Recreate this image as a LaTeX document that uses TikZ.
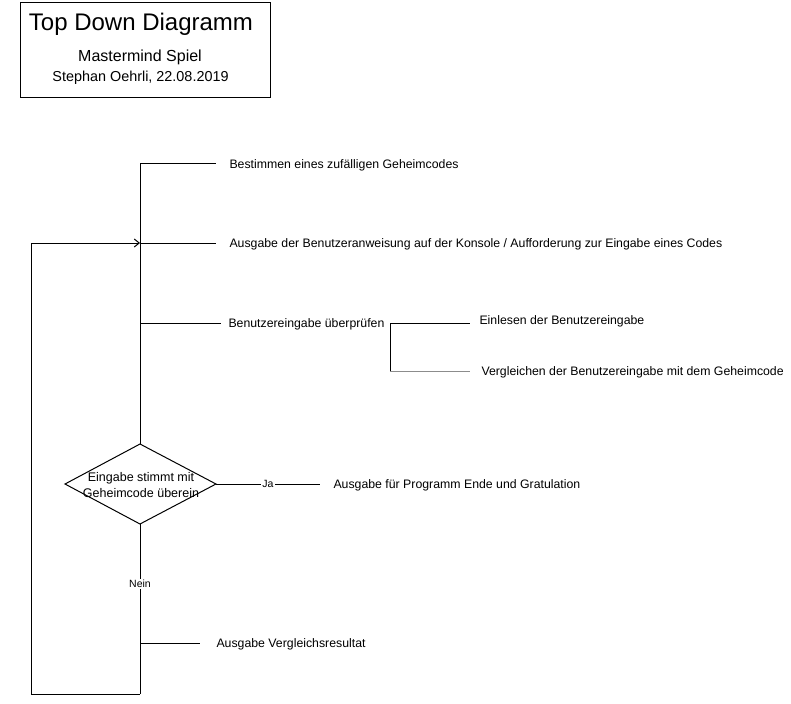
\documentclass[tikz,border=0pt]{standalone}
\usepackage{fontspec}
\setmainfont{Liberation Sans}
\usetikzlibrary{arrows.meta}
\begin{document}
\begin{tikzpicture}[x=1pt,y=-1pt,line width=1pt,
  lbl/.style={anchor=west,inner xsep=13pt,inner ysep=0pt,text height=8.5pt,text depth=0pt,font=\fontsize{12.3}{14}\selectfont},
  tag/.style={fill=white,inner sep=1pt,font=\fontsize{10.5}{12}\selectfont},
  grayline/.style={draw=black!45}]
\useasboundingbox (0,0) rectangle (791,703);
% title box
\node[draw,minimum width=250pt,minimum height=95pt,inner sep=0pt] (title) at (145,50.5) {};
\node[font=\fontsize{24}{26}\selectfont,inner sep=0pt,text height=17pt,text depth=0pt] (t0) at (141,22) {Top Down Diagramm};
\node[font=\fontsize{16}{18}\selectfont,inner sep=0pt,text height=11.5pt,text depth=0pt] (t00) at (140,56) {Mastermind Spiel};
\node[font=\fontsize{14.4}{16}\selectfont,inner sep=0pt,text height=10pt,text depth=0pt] (t000) at (140.5,77) {Stephan Oehrli, 22.08.2019};
% junctions
\coordinate (j1) at (140,164);
\coordinate (j2) at (140,243);
\coordinate (j3) at (140,323);
\coordinate (j6) at (140,643);
\coordinate (jb) at (140,694);
\coordinate (lb) at (31,694);
\coordinate (lt) at (31,243);
\coordinate (br1) at (390,323);
\coordinate (br2) at (390,371);
% labels
\node[lbl] (a1) at (216,164) {Bestimmen eines zufälligen Geheimcodes};
\node[lbl] (a2) at (216,243) {Ausgabe der Benutzeranweisung auf der Konsole / Aufforderung zur Eingabe eines Codes};
\node[lbl,inner xsep=7pt] (a3) at (221,323) {Benutzereingabe überprüfen};
\node[lbl,inner xsep=9pt] (b1) at (470,320) {Einlesen der Benutzereingabe};
\node[lbl,inner xsep=11pt] (b2) at (470,371) {Vergleichen der Benutzereingabe mit dem Geheimcode};
\node[lbl] (a5) at (320,484) {Ausgabe für Programm Ende und Gratulation};
\node[lbl,inner xsep=16pt] (a6) at (200,643) {Ausgabe Vergleichsresultat};
% decision
\coordinate (dT) at (140,444);
\coordinate (dB) at (140,524);
\coordinate (dL) at (65,484);
\coordinate (dR) at (216,484);
\draw (dT) -- (dR) -- (dB) -- (dL) -- cycle;
\node[align=center,inner sep=0pt,font=\fontsize{12.5}{16}\selectfont] (dec) at (141,485) {Eingabe stimmt mit\\Geheimcode überein};
% connectors
\draw (j1) -- (dT);
\draw (j1) -- (a1.west);
\draw (j2) -- (a2.west);
\draw (j3) -- (a3.west);
\draw (br1) -- (br1 -| b1.west);
\draw[grayline] (br2) -- (b2.west);
\draw (br1) -- (br2);
\draw (dR) -- node[tag,pos=0.5] (ja) {Ja} (a5.west);
\draw (dB) -- node[tag,pos=0.353] (nein) {Nein} (jb);
\draw (j6) -- (a6.west);
\draw[-{Straight Barb[length=5pt,width=8pt,line width=1pt]}] (jb) -- (lb) -- (lt) -- (j2);
\end{tikzpicture}
\end{document}
